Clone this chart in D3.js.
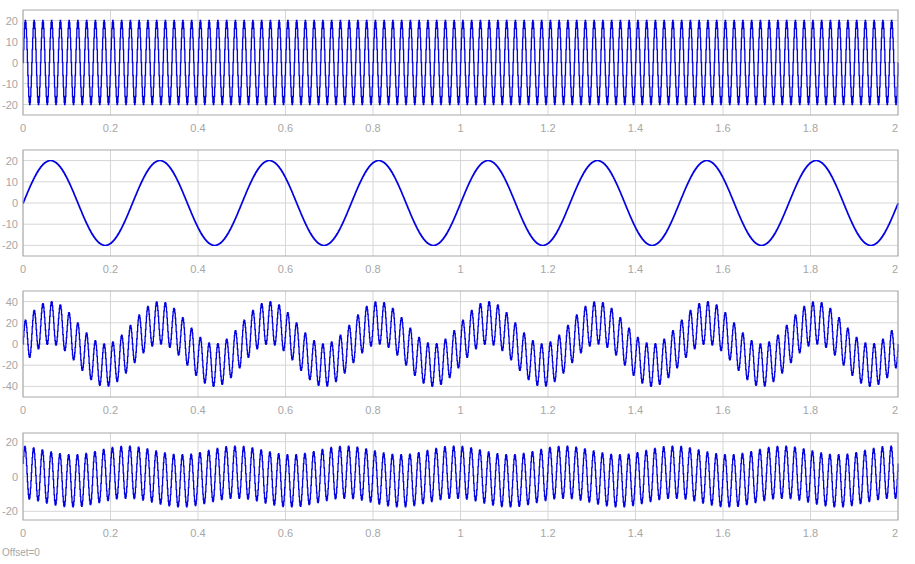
<!DOCTYPE html>
<html><head><meta charset="utf-8">
<script src="https://cdn.jsdelivr.net/npm/d3@7"></script>
<style>body{margin:0;background:#fff}text{font-family:Arial,"Liberation Sans",sans-serif}</style>
</head><body><svg id="c" width="915" height="564"></svg>
<script>
// Signal parameters (amplitude, frequency Hz, phase rad)
const sampleTime = 0.001;
const tEnd = 2;
const xTicks = [0,0.2,0.4,0.6,0.8,1,1.2,1.4,1.6,1.8,2];
const panelDomains = [[-25,25],[-25,25],[-50,50],[-25,25]];
const panelTicks = [[-20,-10,0,10,20],[-20,-10,0,10,20],[-40,-20,0,20,40],[-20,0,20]];
const panelComponents = [
  [[20,50,0]],
  [[20,4,0]],
  [[20,50,0],[20,4,0]],
  [[15,50,0.35],[2.5,4,1.9]]
];
const panelTops = [10,150,291,433];
const panelBottoms = [115,256,397,520];

const svg = d3.select("#c");
const x = d3.scaleLinear().domain([0,tEnd]).range([23,898]);
const times = d3.range(0, tEnd + 1e-9, sampleTime);

panelComponents.forEach((comps,i)=>{
  const y = d3.scaleLinear().domain(panelDomains[i]).range([panelBottoms[i],panelTops[i]]);
  const g = svg.append("g");
  xTicks.forEach(t=>g.append("line").attr("x1",x(t)).attr("x2",x(t))
    .attr("y1",panelTops[i]).attr("y2",panelBottoms[i]).attr("stroke","#d6d6d6"));
  panelTicks[i].forEach(v=>g.append("line").attr("x1",23).attr("x2",898)
    .attr("y1",y(v)).attr("y2",y(v)).attr("stroke","#d6d6d6"));
  const data = times.map(t=>[t, d3.sum(comps, c=>c[0]*Math.sin(2*Math.PI*c[1]*t + c[2]))]);
  g.append("path").datum(data).attr("fill","none").attr("stroke","#0000e0").attr("stroke-width",1.3)
   .attr("d", d3.line().x(d=>x(d[0])).y(d=>y(d[1])).curve(d3.curveStepAfter));
  g.append("rect").attr("x",23).attr("y",panelTops[i]).attr("width",875)
   .attr("height",panelBottoms[i]-panelTops[i]).attr("fill","none").attr("stroke","#a8a8a8");
  xTicks.forEach(t=>g.append("text").attr("x",x(t)).attr("y",panelBottoms[i]+17)
    .attr("text-anchor", t===2?"end":"middle").attr("font-size",11).attr("fill","#a6a6a6")
    .text(d3.format("~g")(t)));
  panelTicks[i].forEach(v=>g.append("text").attr("x",18).attr("y",y(v)+4)
    .attr("text-anchor","end").attr("font-size",11).attr("fill","#a6a6a6").text(v));
});
svg.append("text").attr("x",2).attr("y",556).attr("font-size",10).attr("fill","#a6a6a6").text("Offset=0");
</script></body></html>
